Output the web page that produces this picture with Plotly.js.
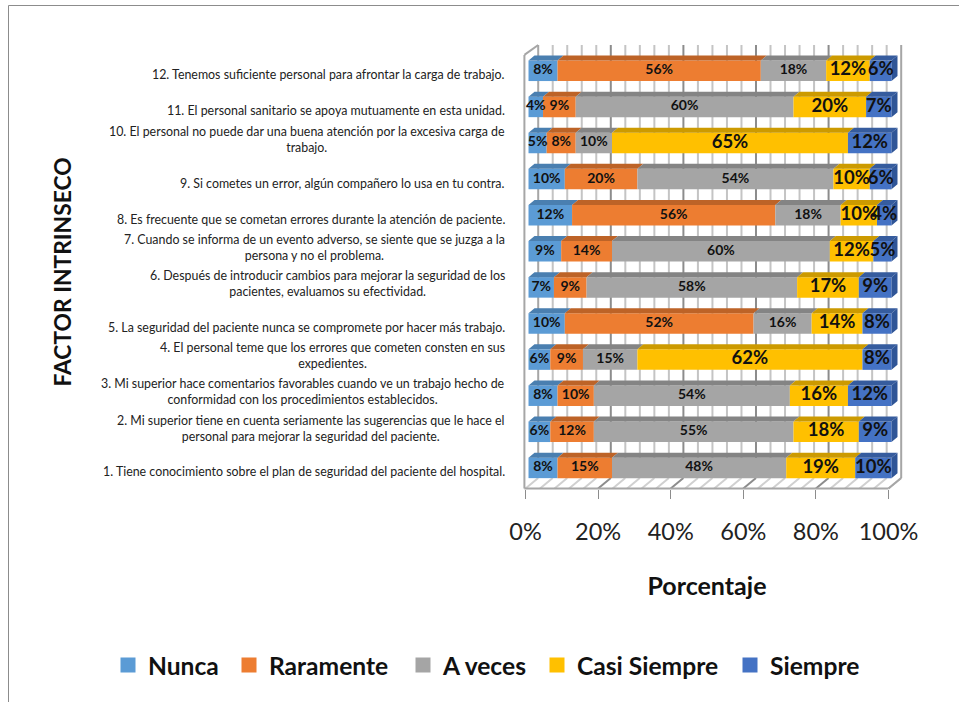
<!DOCTYPE html>
<html><head><meta charset="utf-8">
<script src="https://cdn.plot.ly/plotly-3.0.1.min.js"></script>
<style>html,body{margin:0;padding:0;background:#fff}#g{width:959px;height:702px}</style>
</head><body><div id="g"></div>
<script>
const categories = [
 "1. Tiene conocimiento sobre el plan de seguridad del paciente del hospital.",
 "2. Mi superior tiene en cuenta seriamente las sugerencias que le hace el<br>personal para mejorar la seguridad del paciente.",
 "3. Mi superior hace comentarios favorables cuando ve un trabajo hecho de<br>conformidad con los procedimientos establecidos.",
 "4. El personal teme que los errores que cometen consten en sus<br>expedientes.",
 "5. La seguridad del paciente nunca se compromete por hacer más trabajo.",
 "6. Después de introducir cambios para mejorar la seguridad de los<br>pacientes, evaluamos su efectividad.",
 "7. Cuando se informa de un evento adverso, se siente que se juzga a la<br>persona y no el problema.",
 "8. Es frecuente que se cometan errores durante la atención de paciente.",
 "9. Si cometes un error, algún compañero lo usa en tu contra.",
 "10. El personal no puede dar una buena atención por la excesiva carga de<br>trabajo.",
 "11. El personal sanitario se apoya mutuamente en esta unidad.",
 "12. Tenemos suficiente personal para afrontar la carga de trabajo."
];
const nunca       = [8, 6, 8, 6,10, 7, 9,12,10, 5, 4, 8];
const raramente   = [15,12,10, 9,52, 9,14,56,20, 8, 9,56];
const aVeces      = [48,55,54,15,16,58,60,18,54,10,60,18];
const casiSiempre = [19,18,16,62,14,17,12,10,10,65,20,12];
const siempre     = [10, 9,12, 8, 8, 9, 5, 4, 6,12, 7, 6];
const seriesNames = ["Nunca","Raramente","A veces","Casi Siempre","Siempre"];
const seriesValues = [nunca, raramente, aVeces, casiSiempre, siempre];
const frontColors = ["#5B9BD5","#ED7D31","#A5A5A5","#FFC000","#4472C4"];
const topColors   = ["#4A7FB0","#BD6327","#848484","#CC9A00","#365C9E"];
const sideColor = "#2F5597";
const labelSizes = [14,14,14,18.5,18.5];
const tickValues = [0,20,40,60,80,100];
const FONT = "Lato, 'Open Sans', sans-serif";

// geometry helpers, in axis units (3.63 px per percent, 36.1 px per row)
const BAR_OFFSET = 0.83, TOP_DX = 1.65, TOP_DY = 0.1385, BAR_W = 0.568;
const WALL_DX = 3.5, FLOOR_FRONT = -0.57, FLOOR_BACK = -0.28, WALL_TOP = 11.715, FRONT_TOP = 11.44;
const rows = categories.map((_, i) => i);

const traces = [];
let cum = rows.map(() => BAR_OFFSET);
const bases = [];
seriesValues.forEach((vals, s) => {
  bases.push(cum.slice());
  traces.push({type:"bar", orientation:"h", name:seriesNames[s], y:rows, x:vals, base:cum.slice(),
    width:BAR_W, marker:{color:frontColors[s], line:{width:0}}, showlegend:false, hoverinfo:"x+name"});
  cum = cum.map((c,i)=>c+vals[i]);
});
seriesValues.forEach((vals, s) => {
  const px=[], py=[];
  rows.forEach(i=>{
    const x0=bases[s][i], x1=x0+vals[i], yT=i+BAR_W/2;
    px.push(x0,x1,x1+TOP_DX,x0+TOP_DX,x0,null);
    py.push(yT,yT,yT+TOP_DY,yT+TOP_DY,yT,null);
  });
  traces.push({type:"scatter",mode:"lines",x:px,y:py,fill:"toself",fillcolor:topColors[s],line:{width:0},showlegend:false,hoverinfo:"skip"});
});
{
  const px=[], py=[];
  rows.forEach(i=>{
    const x1=BAR_OFFSET+100, yT=i+BAR_W/2, yB=i-BAR_W/2;
    px.push(x1,x1+TOP_DX,x1+TOP_DX,x1,x1,null);
    py.push(yT,yT+TOP_DY,yB+TOP_DY,yB,yT,null);
  });
  traces.push({type:"scatter",mode:"lines",x:px,y:py,fill:"toself",fillcolor:sideColor,line:{width:0},showlegend:false,hoverinfo:"skip"});
}
seriesValues.forEach((vals, s) => {
  traces.push({type:"scatter",mode:"text",xaxis:"x",yaxis:"y",
    x:rows.map(i=>bases[s][i]+vals[i]/2), y:rows, text:vals.map(v=>v+"%"),
    textposition:"middle center", textfont:{family:FONT,size:labelSizes[s],color:"#111",weight:700},
    showlegend:false, hoverinfo:"skip"});
});
// keeps the visible percentage axis alive
traces.push({type:"scatter",mode:"markers",xaxis:"x2",yaxis:"y",x:[null],y:[null],showlegend:false,hoverinfo:"skip"});
// legend keys
const legendTextX = [148,269,443,577,770];
const layoutLegends = {};
seriesNames.forEach((n,s)=>{
  const key = s===0 ? "legend" : "legend"+(s+1);
  traces.push({type:"scatter",mode:"markers",name:n,x:[null],y:[null],legend:key,
    marker:{symbol:"square",size:15,color:frontColors[s]},showlegend:true});
  layoutLegends[key] = {x:(legendTextX[s]-40-520)/385, xanchor:"left", y:(504-665)/464, yanchor:"middle",
    font:{family:FONT,size:24.6,color:"#111",weight:700}, bgcolor:"rgba(0,0,0,0)", orientation:"h"};
});

const shapes = [];
const line=(x0,y0,x1,y1,color,w,layer)=>({type:"line",xref:"x",yref:"y",x0,y0,x1,y1,layer:layer||"below",line:{color,width:w}});
for(let v=0;v<=100;v+=4){
  const major = v%20===0;
  const c = major? "#8C8C8C":"#C4C4C4";
  if(v>0 && v<100) shapes.push(line(v+WALL_DX,FLOOR_BACK,v+WALL_DX,WALL_TOP,c,2));
  shapes.push(line(v,FLOOR_FRONT,v+WALL_DX,FLOOR_BACK,major&&v>0&&v<100?"#8C8C8C":"#D0D0D0",2));
}
const W="#A6A6A6";
shapes.push(line(-0.3,FLOOR_FRONT,100,FLOOR_FRONT,W,2));
shapes.push(line(100,FLOOR_FRONT,100+WALL_DX,FLOOR_BACK,W,2));
shapes.push(line(-0.3,FLOOR_FRONT,-0.3,FRONT_TOP,W,2));
shapes.push(line(-0.3,FRONT_TOP,WALL_DX,WALL_TOP,W,2));
shapes.push(line(WALL_DX,FLOOR_BACK,WALL_DX,WALL_TOP,W,2));
shapes.push(line(100+WALL_DX,FLOOR_BACK,100+WALL_DX,WALL_TOP,W,2));
// page frame
const fx=p=>(p-520)/385, fy=p=>(504-p)/464;
const frame={color:"#8C8C8C",width:1};
shapes.push({type:"line",xref:"paper",yref:"paper",x0:fx(8.5),x1:fx(959),y0:fy(5.5),y1:fy(5.5),line:frame});
shapes.push({type:"line",xref:"paper",yref:"paper",x0:fx(8.5),x1:fx(8.5),y0:fy(5.5),y1:fy(702),line:frame});

const annotations = categories.map((c,i)=>({
  xref:"paper", yref:"y", x:fx(507), y:i, xanchor:"right", yanchor:"middle", align:"center",
  text:c, showarrow:false, yshift:c.includes("<br>")?3.8:-4,
  font:{family:FONT,size:12.4,color:"#222"}
}));

const layout = Object.assign({
  width:959, height:702, paper_bgcolor:"#fff", plot_bgcolor:"rgba(0,0,0,0)",
  margin:{l:520,r:54,t:40,b:198,pad:0},
  barmode:"overlay", showlegend:true, hovermode:"closest",
  xaxis:{domain:[0,1],range:[-1.515,104.55],visible:false,fixedrange:true},
  xaxis2:{domain:[5.5/385,368.5/385],range:[0,100],anchor:"free",position:(504-488.5)/464,side:"bottom",
    tickmode:"array",tickvals:tickValues,ticktext:tickValues.map(v=>v+"%"),
    ticks:"outside",ticklen:9,tickwidth:1,tickcolor:"#8C8C8C",showgrid:false,zeroline:false,showline:false,
    ticklabelstandoff:13,tickfont:{family:FONT,size:23.5,color:"#222"},
    title:{text:"Porcentaje",standoff:33,font:{family:FONT,size:25,color:"#111",weight:700}},fixedrange:true},
  yaxis:{domain:[0,1],range:[-1,11.853],showticklabels:false,ticks:"",showgrid:false,zeroline:false,showline:false,fixedrange:true,
    title:{text:"FACTOR INTRINSECO",standoff:441,font:{family:FONT,size:22.8,color:"#111",weight:700}}},
  shapes, annotations
}, layoutLegends);
Plotly.newPlot("g",traces,layout,{displayModeBar:false,responsive:false});
</script></body></html>
